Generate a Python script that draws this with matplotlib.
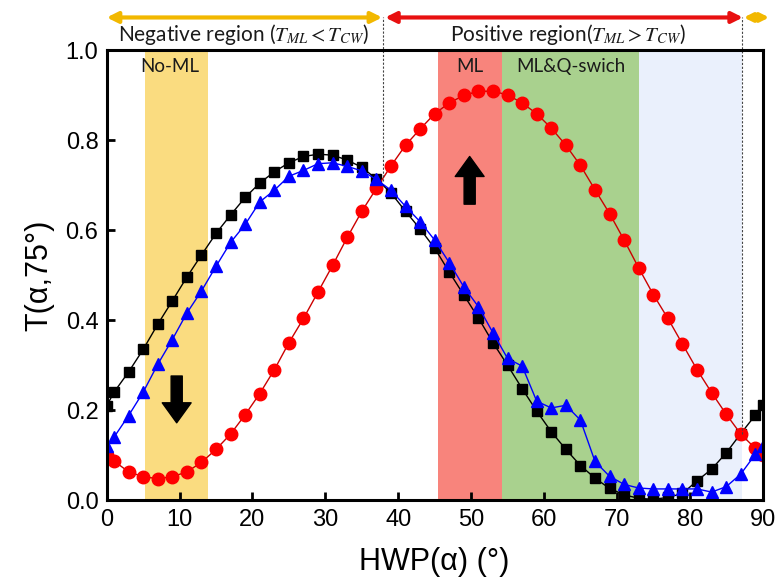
import matplotlib
matplotlib.use("Agg")
from matplotlib import pyplot as plt

plt.rcParams['font.family'] = ['Liberation Sans', 'DejaVu Sans']
plt.rcParams['mathtext.fontset'] = 'stix'

#############################################################
# Data
#############################################################
alpha = [0, 1, 3, 5, 7, 9, 11, 13, 15, 17, 19, 21, 23, 25, 27, 29, 31, 33, 35, 37,
         39, 41, 43, 45, 47, 49, 51, 53, 55, 57, 59, 61, 63, 65, 67, 69, 71, 73, 75,
         77, 79, 81, 83, 85, 87, 89, 90]

t_black = [0.210, 0.240, 0.285, 0.335, 0.391, 0.443, 0.496, 0.545, 0.593, 0.634,
           0.673, 0.705, 0.730, 0.750, 0.764, 0.769, 0.767, 0.756, 0.740, 0.714,
           0.683, 0.642, 0.603, 0.560, 0.507, 0.456, 0.405, 0.350, 0.300, 0.248,
           0.198, 0.152, 0.113, 0.077, 0.049, 0.026, 0.012, 0.004, 0.002, 0.006,
           0.015, 0.043, 0.069, 0.105, 0.148, 0.189, 0.211]

t_blue = [0.120, 0.140, 0.188, 0.240, 0.302, 0.357, 0.416, 0.465, 0.520, 0.573,
          0.613, 0.663, 0.689, 0.720, 0.733, 0.748, 0.750, 0.742, 0.732, 0.713,
          0.689, 0.653, 0.619, 0.578, 0.528, 0.474, 0.430, 0.372, 0.315, 0.298,
          0.220, 0.205, 0.211, 0.178, 0.086, 0.053, 0.035, 0.027, 0.025, 0.025,
          0.025, 0.025, 0.018, 0.030, 0.058, 0.102, 0.120]

t_red = [0.100, 0.087, 0.063, 0.052, 0.048, 0.052, 0.063, 0.084, 0.113, 0.147,
         0.190, 0.237, 0.290, 0.350, 0.404, 0.463, 0.522, 0.584, 0.642, 0.693,
         0.743, 0.789, 0.825, 0.859, 0.883, 0.900, 0.909, 0.909, 0.901, 0.883,
         0.859, 0.827, 0.789, 0.744, 0.690, 0.637, 0.578, 0.516, 0.457, 0.404,
         0.347, 0.290, 0.239, 0.191, 0.147, 0.115, 0.100]

x_ticks = [0, 10, 20, 30, 40, 50, 60, 70, 80, 90]
y_ticks = [0.0, 0.2, 0.4, 0.6, 0.8, 1.0]

# shaded bands (start, end, colour)
bands = [(5.2, 13.9, '#FADC80'),
         (45.4, 54.2, '#F8847C'),
         (54.2, 73.0, '#A9D18E'),
         (73.0, 87.1, '#EAF0FC')]
band_labels = [(8.6, 'No-ML'), (49.8, 'ML'), (63.7, 'ML&Q-swich')]

# boundaries between negative/positive regions and where they meet the curves
bound_x = [37.9, 87.1]
bound_y = [0.71, 0.147]

#############################################################
# Plot
#############################################################
fig = plt.figure(figsize=(7.79, 5.85), dpi=100)
ax = fig.add_axes([0.137, 0.145, 0.842, 0.769])

for x0, x1, c in bands:
    ax.axvspan(x0, x1, color=c, lw=0, zorder=0)
for xc, txt in band_labels:
    ax.text(xc, 0.965, txt, ha='center', va='center', fontsize=13.5,
            family=['Lato', 'DejaVu Sans'], color='#1a1a1a')

ax.plot(alpha, t_black, '-', color='black', lw=1, marker='s', ms=7.5,
        mfc='black', mec='black', zorder=3)
ax.plot(alpha, t_blue, '-', color='#0000FF', lw=1, marker='^', ms=9,
        mfc='#0000FF', mec='#0000FF', zorder=4)
ax.plot(alpha, t_red, '-', color='#CC0000', lw=1, marker='o', ms=9,
        mfc='#FF0000', mec='#FF0000', zorder=3)

# dashed boundary lines, going up past the axes top
for bx, by in zip(bound_x, bound_y):
    ax.plot([bx, bx], [by, 1.075], ls=(0, (2, 1.5)), color='#444444', lw=0.8,
            clip_on=False, zorder=5)

# region arrows above the axes
arrow_y = 1.073
ax.annotate('', xy=(0.0, arrow_y), xytext=(37.8, arrow_y), xycoords='data',
            annotation_clip=False,
            arrowprops=dict(arrowstyle='<|-|>', color='#F2B800', lw=3,
                            mutation_scale=16, shrinkA=0, shrinkB=0))
ax.annotate('', xy=(38.2, arrow_y), xytext=(87.3, arrow_y), xycoords='data',
            annotation_clip=False,
            arrowprops=dict(arrowstyle='<|-|>', color='#E81010', lw=3,
                            mutation_scale=16, shrinkA=0, shrinkB=0))
ax.annotate('', xy=(87.4, arrow_y), xytext=(90.9, arrow_y), xycoords='data',
            annotation_clip=False,
            arrowprops=dict(arrowstyle='<|-|>', color='#F2B800', lw=3,
                            mutation_scale=12, shrinkA=0, shrinkB=0))

ax.text(18.8, 1.035, r'Negative region ($T_{ML} < T_{CW}$)', ha='center', va='center',
        fontsize=15, family=['Lato', 'DejaVu Sans'], color='#1a1a1a', clip_on=False)
ax.text(63.3, 1.035, r'Positive region($T_{ML} > T_{CW}$)', ha='center', va='center',
        fontsize=15, family=['Lato', 'DejaVu Sans'], color='#1a1a1a', clip_on=False)

# black trend arrows
ax.annotate('', xy=(9.6, 0.172), xytext=(9.6, 0.276),
            arrowprops=dict(arrowstyle='simple,head_length=0.9,head_width=1.3,tail_width=0.5',
                            color='black', mutation_scale=16, shrinkA=0, shrinkB=0),
            zorder=6)
ax.annotate('', xy=(49.8, 0.764), xytext=(49.8, 0.658),
            arrowprops=dict(arrowstyle='simple,head_length=0.9,head_width=1.3,tail_width=0.5',
                            color='black', mutation_scale=16, shrinkA=0, shrinkB=0),
            zorder=6)

ax.set_xlim(0, 90)
ax.set_ylim(0, 1.0)
ax.set_xticks(x_ticks)
ax.set_yticks(y_ticks)
ax.set_yticklabels(['%.1f' % v for v in y_ticks])
ax.tick_params(direction='in', length=6, width=2, labelsize=17, pad=6)
for s in ax.spines.values():
    s.set_linewidth(2.2)
    s.set_zorder(7)

ax.set_xlabel(u'HWP(\u03b1) (\u00b0)', fontsize=22, labelpad=12)
ax.set_ylabel(u'T(\u03b1,75\u00b0)', fontsize=22, labelpad=8)

fig.savefig('out.png', dpi=100)
